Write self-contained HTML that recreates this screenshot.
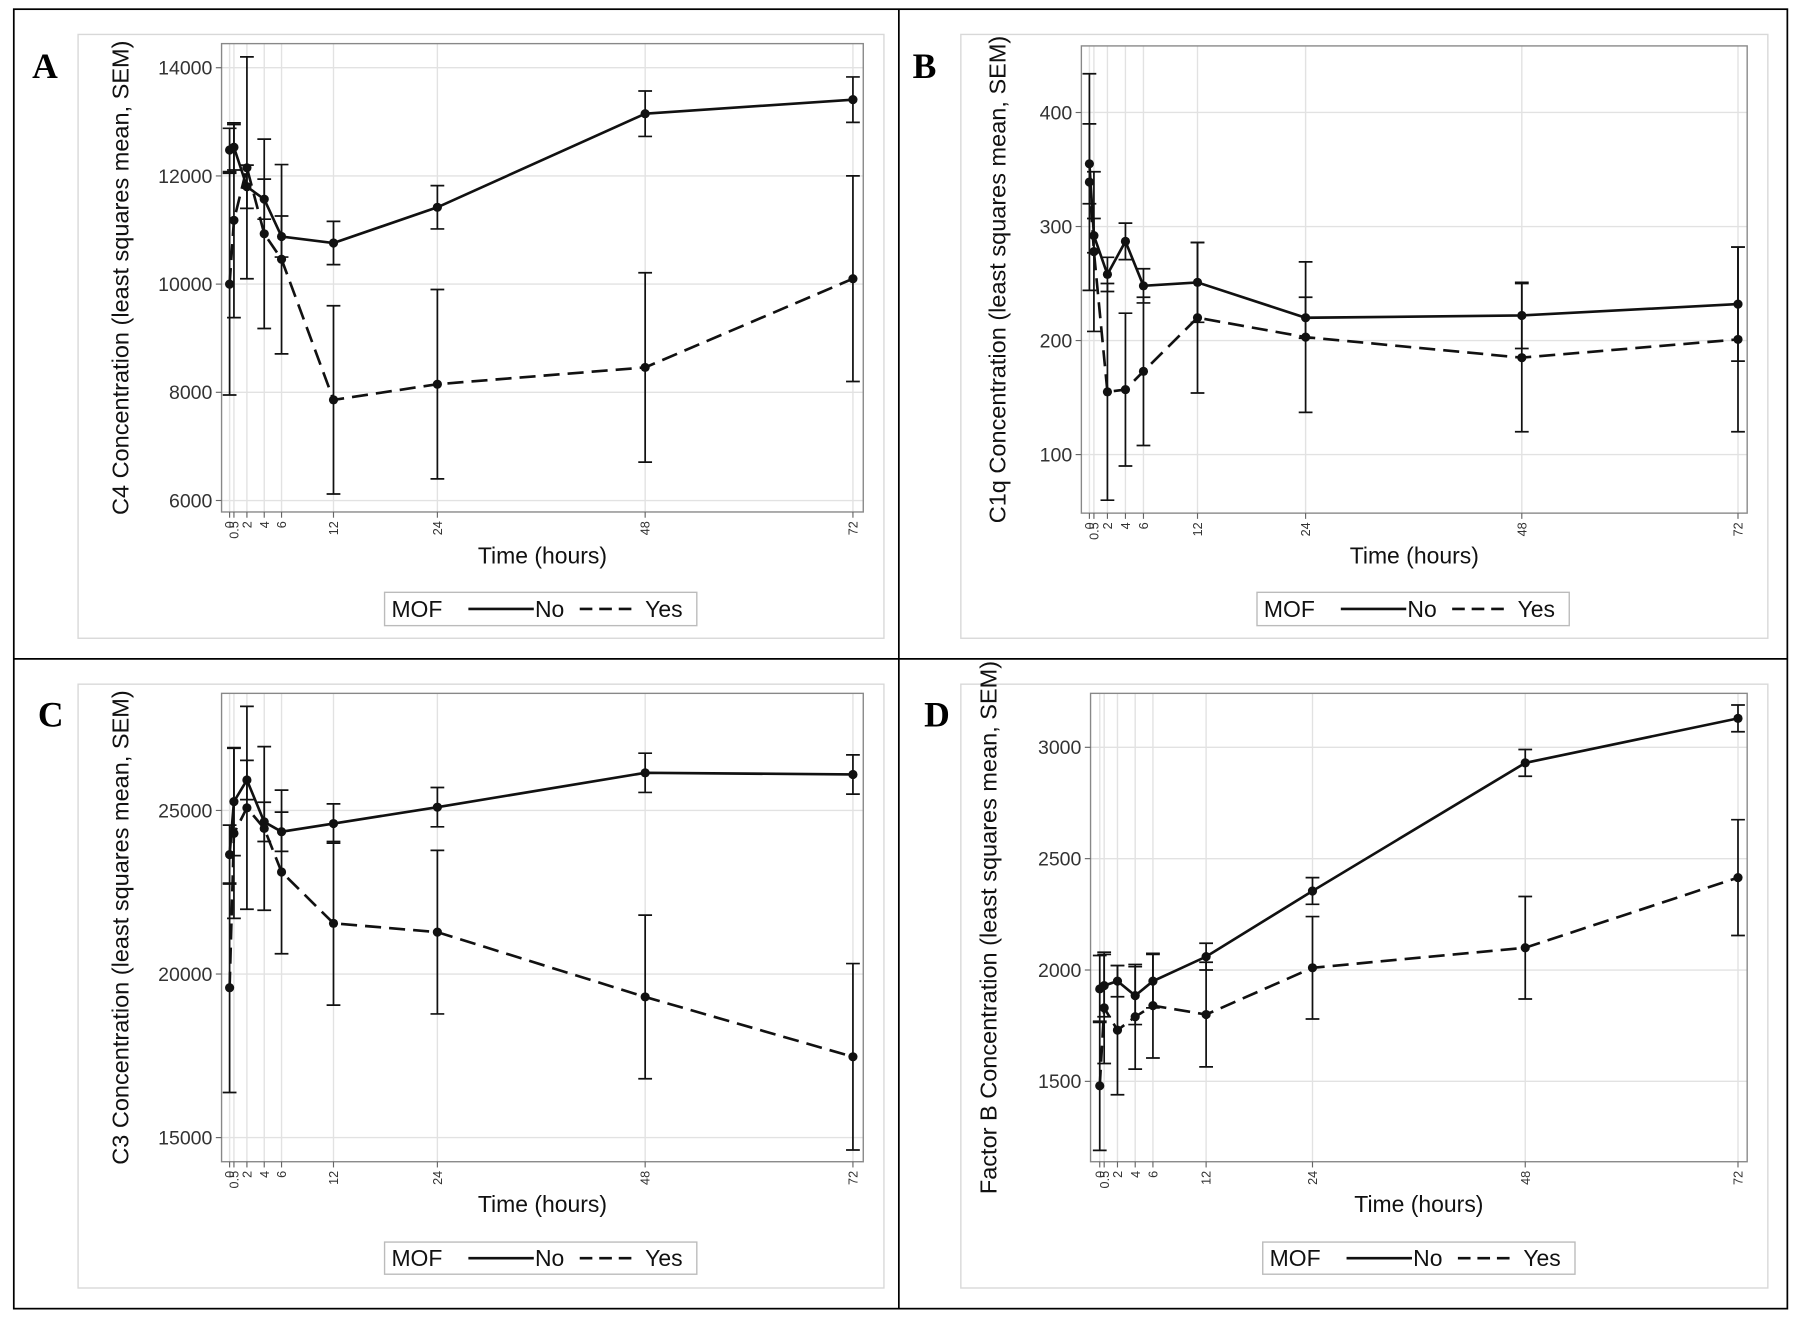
<!DOCTYPE html>
<html><head><meta charset="utf-8"><style>
html,body{margin:0;padding:0;background:#fff}
svg{display:block}
text{font-family:"Liberation Sans",sans-serif}
text.letter{font-family:"Liberation Serif",serif}
</style></head><body>
<svg id="fig" width="1800" height="1323" viewBox="0 0 1568 1152.5" xmlns="http://www.w3.org/2000/svg"></svg>
<script>
const times = [0, 0.5, 2, 4, 6, 12, 24, 48, 72];
const xTickLabels = ["0", "0.5", "2", "4", "6", "12", "24", "48", "72"];

const aNo = [12480, 12530, 11800, 11570, 10880, 10760, 11420, 13150, 13410];
const aNoSem = [400, 420, 400, 370, 380, 400, 400, 420, 420];
const aYes = [10000, 11180, 12150, 10930, 10460, 7860, 8150, 8460, 10100];
const aYesSem = [2050, 1800, 2050, 1750, 1750, 1740, 1750, 1750, 1900];
const aTicks = [6000, 8000, 10000, 12000, 14000];

const bNo = [355, 292, 258, 287, 248, 251, 220, 222, 232];
const bNoSem = [35, 15, 15, 16, 15, 35, 18, 29, 50];
const bYes = [339, 278, 155, 157, 173, 220, 203, 185, 201];
const bYesSem = [95, 70, 95, 67, 65, 66, 66, 65, 81];
const bTicks = [100, 200, 300, 400];

const cNo = [23650, 25270, 25930, 24650, 24350, 24600, 25100, 26150, 26100];
const cNoSem = [900, 1650, 600, 600, 600, 600, 600, 600, 600];
const cYes = [19580, 24300, 25080, 24450, 23120, 21550, 21280, 19300, 17470];
const cYesSem = [3200, 2600, 3100, 2500, 2500, 2500, 2500, 2500, 2850];
const cTicks = [15000, 20000, 25000];

const dNo = [1915, 1930, 1950, 1885, 1950, 2060, 2355, 2930, 3130];
const dNoSem = [150, 140, 70, 130, 120, 60, 60, 60, 60];
const dYes = [1480, 1830, 1730, 1790, 1840, 1800, 2010, 2100, 2415];
const dYesSem = [290, 250, 290, 235, 235, 235, 230, 230, 260];
const dTicks = [1500, 2000, 2500, 3000];

const NS = "http://www.w3.org/2000/svg";
const svg = document.getElementById("fig");
function el(tag, attrs, parent, txt){
  const e = document.createElementNS(NS, tag);
  for (const k in attrs) e.setAttribute(k, attrs[k]);
  if (txt !== undefined) e.textContent = txt;
  (parent || svg).appendChild(e);
  return e;
}

const outer = el("rect", {x:12, y:8, width:1545, height:1132, fill:"none", stroke:"#000", "stroke-width":1.5});


const vdiv = el("line", {x1:783, y1:8, x2:783, y2:1140, stroke:"#000", "stroke-width":1.5});


const hdiv = el("line", {x1:12, y1:574, x2:1557, y2:574, stroke:"#000", "stroke-width":1.5});



const panels = [
  {id:"a", letter:"A", lx:28, ly:68, frame:[68,30,770,556], plot:[193,38,752,446], x0:200, x72:743,
   v1:14000, y1:59, v2:6000, y2:436, ticks:aTicks, no:aNo, noSem:aNoSem, yes:aYes, yesSem:aYesSem,
   ytitle:"C4 Concentration (least squares mean, SEM)", tx:112, legend:[335,516,607,545], timeY:491},
  {id:"b", letter:"B", lx:795, ly:68, frame:[837,30,1540,556], plot:[942,40,1522,447], x0:949, x72:1514,
   v1:400, y1:98, v2:100, y2:396, ticks:bTicks, no:bNo, noSem:bNoSem, yes:bYes, yesSem:bYesSem,
   ytitle:"C1q Concentration (least squares mean, SEM)", tx:876, legend:[1095,516,1367,545], timeY:491},
  {id:"c", letter:"C", lx:33, ly:633, frame:[68,596,770,1122], plot:[193,604,752,1012], x0:200, x72:743,
   v1:25000, y1:706, v2:15000, y2:991, ticks:cTicks, no:cNo, noSem:cNoSem, yes:cYes, yesSem:cYesSem,
   ytitle:"C3 Concentration (least squares mean, SEM)", tx:112, legend:[335,1082,607,1110], timeY:1056},
  {id:"d", letter:"D", lx:805, ly:633, frame:[837,596,1540,1122], plot:[950,604,1522,1012], x0:958, x72:1514,
   v1:3000, y1:651, v2:1500, y2:942, ticks:dTicks, no:dNo, noSem:dNoSem, yes:dYes, yesSem:dYesSem,
   ytitle:"Factor B Concentration (least squares mean, SEM)", tx:868, legend:[1100,1082,1372,1110], timeY:1056}
];

panels.forEach(p => {
  const g = el("g", {});
  
  
  const xs = t => p.x0 + (p.x72 - p.x0) * t / 72;
  const ys = v => p.y1 + (v - p.v1) * (p.y2 - p.y1) / (p.v2 - p.v1);
  const [px1, py1, px2, py2] = p.plot;

  const fr = el("rect", {x:p.frame[0], y:p.frame[1], width:p.frame[2]-p.frame[0], height:p.frame[3]-p.frame[1], fill:"none", stroke:"#d8d8d8", "stroke-width":1.2}, g);
  
  

  const lt = el("text", {x:p.lx, y:p.ly, "font-size":31, "font-weight":"bold", "class":"letter"}, g, p.letter);
  
  

  p.ticks.forEach(v => {
    const gl = el("line", {x1:px1, x2:px2, y1:ys(v), y2:ys(v), stroke:"#e2e2e2", "stroke-width":1.2}, g);
    
    
  });
  times.forEach(t => {
    const gl = el("line", {x1:xs(t), x2:xs(t), y1:py1, y2:py2, stroke:"#e2e2e2", "stroke-width":1.2}, g);
    
    
  });
  const pa = el("rect", {x:px1, y:py1, width:px2-px1, height:py2-py1, fill:"none", stroke:"#888", "stroke-width":1.2}, g);
  
  

  p.ticks.forEach(v => {
    const tk = el("line", {x1:px1-5, x2:px1, y1:ys(v), y2:ys(v), stroke:"#666"}, g);
    
    
    const tl = el("text", {x:px1-8, y:ys(v)+6, "font-size":17, "text-anchor":"end", fill:"#333"}, g, String(v));
    
    
  });
  times.forEach((t, i) => {
    const tk = el("line", {x1:xs(t), x2:xs(t), y1:py2, y2:py2+5, stroke:"#666"}, g);
    
    
    const tx = xs(t) + 4, ty = py2 + 8;
    const tl = el("text", {x:tx, y:ty, "font-size":11, "text-anchor":"end", fill:"#333", transform:`rotate(-90 ${tx} ${ty})`}, g, xTickLabels[i]);
    
    
  });

  const xt = el("text", {x:(px1+px2)/2, y:p.timeY, "font-size":20, "text-anchor":"middle", fill:"#111"}, g, "Time (hours)");
  
  
  const cy = (py1+py2)/2;
  const yt = el("text", {x:p.tx, y:cy, "font-size":20.5, "text-anchor":"middle", fill:"#111", transform:`rotate(-90 ${p.tx} ${cy})`}, g, p.ytitle);
  
  

  [["no", p.no, p.noSem, null], ["yes", p.yes, p.yesSem, "14 7"]].forEach(([nm, vals, sem, dash]) => {
    times.forEach((t, i) => {
      const x = xs(t), lo = ys(vals[i]-sem[i]), hi = ys(vals[i]+sem[i]);
      const eb = el("path", {d:`M${x},${lo}V${hi}M${x-6},${lo}H${x+6}M${x-6},${hi}H${x+6}`, stroke:"#111", "stroke-width":1.5, fill:"none"}, g);
      
      
    });
    const d = times.map((t, i) => (i ? "L" : "M") + xs(t) + "," + ys(vals[i])).join("");
    const ln = el("path", {d:d, stroke:"#111", "stroke-width":2.3, fill:"none"}, g);
    if (dash) ln.setAttribute("stroke-dasharray", dash);
    
    
    times.forEach((t, i) => {
      const pt = el("circle", {cx:xs(t), cy:ys(vals[i]), r:4, fill:"#111"}, g);
      
      
    });
  });

  const [lx1, ly1, lx2, ly2] = p.legend;
  const lg = el("g", {}, g);
  
  
  el("rect", {x:lx1, y:ly1, width:lx2-lx1, height:ly2-ly1, fill:"#fff", stroke:"#bbb", "stroke-width":1.2}, lg);
  const my = (ly1+ly2)/2;
  const t1 = el("text", {x:lx1+6, y:my+7, "font-size":20, fill:"#111"}, lg, "MOF");
  
  
  const l1 = el("line", {x1:lx1+73, x2:lx1+130, y1:my, y2:my, stroke:"#111", "stroke-width":2.3}, lg);
  
  
  const t2 = el("text", {x:lx1+131, y:my+7, "font-size":20, fill:"#111"}, lg, "No");
  
  
  const l2 = el("line", {x1:lx1+170, x2:lx1+221, y1:my, y2:my, stroke:"#111", "stroke-width":2.3, "stroke-dasharray":"11 6"}, lg);
  
  
  const t3 = el("text", {x:lx1+227, y:my+7, "font-size":20, fill:"#111"}, lg, "Yes");
  
  
});
</script>
</body></html>
